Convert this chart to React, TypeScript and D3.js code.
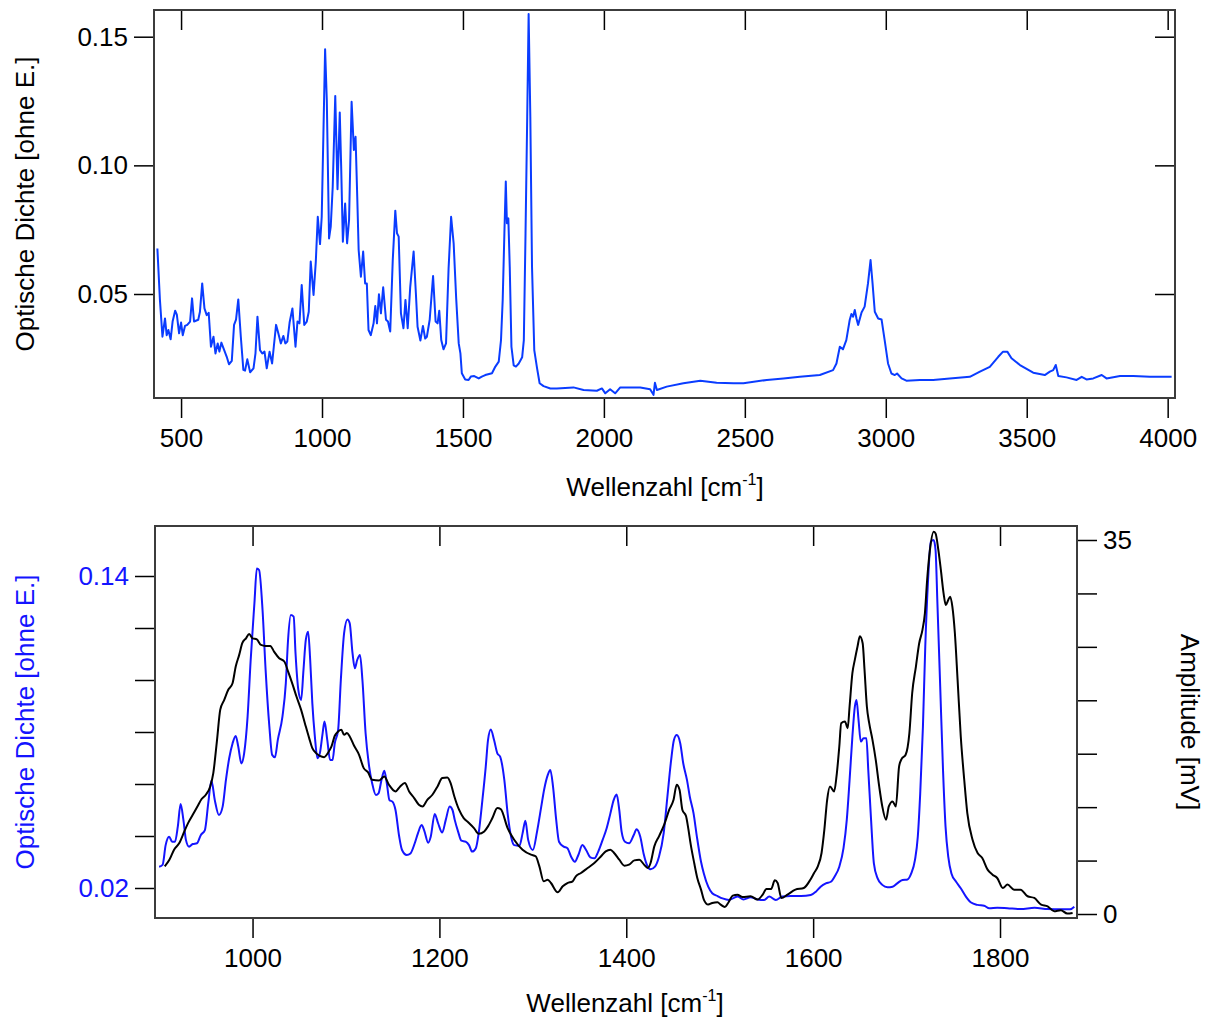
import React, { useEffect, useRef } from "react";
import * as d3 from "d3";

// Survey spectrum, top panel (wavenumber in cm-1, optical density)
const surveyWavenumber = [
  416, 425, 434, 443, 449, 455, 463, 470, 479, 485, 493, 500, 506, 514, 522, 532, 539, 546, 561, 567,
  575, 583, 591, 598, 606, 615, 622, 630, 636, 643, 653, 662, 670, 680, 688, 695, 703, 712, 721, 727,
  735, 745, 757, 764, 771, 780, 788, 796, 804, 814, 823, 829, 837, 845, 854, 863, 870, 877, 885, 895,
  906, 913, 920, 928, 937, 946, 953, 960, 970, 978, 985, 993, 999, 1005, 1011, 1017, 1025, 1031, 1038, 1047,
  1055, 1063, 1068, 1074, 1082, 1089, 1096, 1105, 1113, 1119, 1125, 1130, 1138, 1146, 1153, 1159, 1165, 1173, 1183, 1189,
  1195, 1202, 1209, 1217, 1227, 1234, 1242, 1251, 1260, 1266, 1272, 1280, 1289, 1296, 1304, 1313, 1325, 1333, 1339, 1349,
  1358, 1366, 1372, 1382, 1394, 1403, 1410, 1416, 1423, 1431, 1440, 1449, 1458, 1467, 1476, 1485, 1491, 1496, 1508, 1520,
  1528, 1540, 1556, 1567, 1579, 1603, 1615, 1627, 1635, 1641, 1647, 1652, 1656, 1661, 1666, 1672, 1680, 1688, 1698, 1710,
  1716, 1722, 1728, 1733, 1739, 1745, 1753, 1763, 1772, 1786, 1810, 1833, 1892, 1928, 1975, 1993, 2005, 2022, 2040, 2058,
  2082, 2129, 2164, 2176, 2181, 2188, 2223, 2282, 2342, 2400, 2460, 2495, 2578, 2637, 2695, 2766, 2813, 2825, 2837, 2848,
  2860, 2872, 2878, 2884, 2890, 2896, 2902, 2914, 2925, 2937, 2946, 2953, 2961, 2973, 2985, 2996, 3008, 3020, 3032, 3040,
  3056, 3073, 3121, 3168, 3227, 3298, 3334, 3369, 3399, 3416, 3431, 3446, 3476, 3523, 3564, 3582, 3594, 3603, 3612, 3641,
  3677, 3695, 3712, 3736, 3766, 3783, 3831, 3878, 3937, 4014,
];
const surveyDensity = [
  0.0677, 0.0477, 0.0334, 0.0405, 0.034, 0.036, 0.0324, 0.0393, 0.0435, 0.042, 0.0347, 0.0389, 0.034, 0.0376, 0.038, 0.0393, 0.0483, 0.0393, 0.04, 0.0431,
  0.0541, 0.0444, 0.0418, 0.0427, 0.0295, 0.0334, 0.0269, 0.0308, 0.0276, 0.0311, 0.0282, 0.0256, 0.0227, 0.024, 0.038, 0.04, 0.0479, 0.0334, 0.0205, 0.0202,
  0.0246, 0.0196, 0.0211, 0.0269, 0.0412, 0.0282, 0.0269, 0.0276, 0.0211, 0.0276, 0.023, 0.0295, 0.038, 0.0347, 0.0308, 0.0337, 0.0308, 0.0315, 0.0389, 0.0444,
  0.0295, 0.0393, 0.0386, 0.0535, 0.038, 0.0393, 0.0431, 0.0626, 0.0496, 0.0626, 0.08, 0.0694, 0.08, 0.1124, 0.1451, 0.1254, 0.0716, 0.0762, 0.0917, 0.127,
  0.0907, 0.1205, 0.0995, 0.0703, 0.0852, 0.0697, 0.0788, 0.1247, 0.106, 0.1111, 0.0878, 0.0671, 0.0567, 0.0665, 0.0541, 0.0541, 0.036, 0.034, 0.0386, 0.0453,
  0.0386, 0.0499, 0.0425, 0.0526, 0.04, 0.0393, 0.0354, 0.0632, 0.0824, 0.0736, 0.0723, 0.0425, 0.0367, 0.0477, 0.0367, 0.0528, 0.0665, 0.0503, 0.0373, 0.0319,
  0.0376, 0.0327, 0.0334, 0.04, 0.057, 0.0393, 0.0386, 0.0435, 0.0321, 0.0285, 0.0308, 0.0598, 0.08, 0.0697, 0.0483, 0.0308, 0.0269, 0.0192, 0.0168, 0.0166,
  0.0179, 0.0181, 0.0172, 0.0179, 0.0185, 0.0192, 0.0218, 0.0237, 0.0321, 0.0477, 0.0736, 0.0937, 0.0775, 0.0794, 0.0606, 0.0295, 0.0223, 0.0218, 0.023, 0.0254,
  0.0321, 0.0736, 0.1189, 0.1588, 0.1189, 0.0606, 0.0282, 0.0211, 0.0153, 0.0142, 0.0133, 0.0133, 0.0137, 0.0127, 0.0124, 0.0133, 0.0114, 0.013, 0.0114, 0.0137,
  0.0137, 0.0137, 0.013, 0.0108, 0.0155, 0.0127, 0.014, 0.0153, 0.0163, 0.0155, 0.0153, 0.0153, 0.0166, 0.0172, 0.0178, 0.0185, 0.0204, 0.023, 0.0295, 0.0285,
  0.0321, 0.0399, 0.0422, 0.0412, 0.0438, 0.0405, 0.038, 0.0428, 0.0451, 0.0542, 0.0632, 0.0542, 0.0431, 0.0405, 0.0401, 0.0321, 0.023, 0.0191, 0.0185, 0.0191,
  0.0172, 0.0163, 0.0166, 0.0166, 0.0172, 0.0178, 0.0198, 0.0217, 0.0256, 0.0276, 0.0276, 0.025, 0.0224, 0.0194, 0.0185, 0.0198, 0.0204, 0.0224, 0.0181, 0.0176,
  0.0166, 0.0178, 0.0168, 0.0172, 0.0185, 0.0172, 0.0181, 0.0181, 0.0178, 0.0178,
];

// Fingerprint region, bottom panel: optical density (blue)
const detailWavenumber = [
  900, 903.7, 907, 910.7, 914, 917, 920, 923, 926, 928.7, 932, 936, 940.5, 944.7, 949, 952.6, 956, 959.6, 964, 968,
  971.5, 975, 978.6, 982, 984.7, 988, 991, 994.7, 998, 1002, 1004.6, 1007, 1010.7, 1014, 1018, 1021, 1024, 1027, 1032, 1035.6,
  1038, 1041, 1044, 1046, 1049, 1052, 1054.5, 1057, 1059.5, 1061.7, 1064, 1066.7, 1069.5, 1072, 1075, 1077, 1080, 1083, 1085.6, 1088,
  1091.6, 1094.5, 1098, 1101.6, 1104, 1107, 1109.5, 1112, 1115, 1117.6, 1121, 1124.8, 1128, 1132, 1134.8, 1138, 1141, 1143.7, 1146.5, 1149.7,
  1153, 1157, 1160, 1165, 1169, 1173.6, 1177, 1181, 1183.6, 1188, 1190.7, 1195, 1198.6, 1203, 1206.8, 1211, 1214, 1216.4, 1220, 1223.5,
  1228, 1231.7, 1235, 1239, 1242, 1246, 1249.6, 1252, 1255, 1258.5, 1262, 1265, 1269.5, 1273, 1276.7, 1280, 1285.6, 1289, 1292, 1295,
  1300, 1304.5, 1309, 1312, 1316, 1318.7, 1321.6, 1325, 1328, 1333, 1337, 1341, 1345, 1348.7, 1353, 1357, 1361.5, 1366, 1370, 1374.7,
  1379, 1383, 1386.5, 1389.7, 1392.5, 1395, 1398.6, 1403, 1408, 1411, 1415, 1418.5, 1423, 1426, 1430.7, 1435, 1440, 1444, 1448, 1451,
  1454, 1457.8, 1461, 1465, 1468, 1472, 1475.6, 1480, 1483, 1487.7, 1492, 1497.7, 1503, 1510, 1519, 1525.5, 1533, 1540.5, 1547.6, 1553,
  1560, 1567, 1576, 1587, 1597.5, 1603, 1608, 1613.6, 1619, 1623, 1628, 1632.5, 1636, 1639, 1642, 1644.6, 1646.4, 1648.6, 1651, 1654,
  1657, 1659, 1662, 1665, 1669, 1674, 1679.6, 1685, 1690, 1695.7, 1701, 1705, 1709, 1712, 1714.6, 1717.5, 1720, 1723, 1726, 1729,
  1731, 1733, 1736, 1739, 1741.7, 1744.6, 1748, 1753, 1758, 1763.5, 1769, 1776, 1783, 1788.5, 1797, 1808, 1822, 1837, 1851, 1865,
  1875, 1879.5,
];
const detailDensity = [
  0.0282, 0.0289, 0.0365, 0.0397, 0.0378, 0.0378, 0.0436, 0.0523, 0.0462, 0.0385, 0.0359, 0.0369, 0.0372, 0.0404, 0.0423, 0.0526, 0.0613, 0.0538, 0.0481, 0.0513,
  0.0615, 0.0699, 0.0756, 0.0785, 0.0744, 0.0679, 0.0718, 0.0859, 0.1077, 0.1295, 0.1429, 0.1423, 0.1269, 0.1038, 0.0821, 0.0712, 0.0703, 0.0769, 0.0859, 0.0987,
  0.1154, 0.125, 0.1244, 0.1103, 0.0962, 0.0923, 0.1038, 0.1154, 0.1186, 0.1077, 0.091, 0.0782, 0.0699, 0.0718, 0.0795, 0.084, 0.0769, 0.0692, 0.0692, 0.0756,
  0.0808, 0.1, 0.118, 0.1233, 0.1218, 0.1103, 0.1045, 0.1077, 0.1096, 0.1, 0.0795, 0.0667, 0.0603, 0.0558, 0.0564, 0.0615, 0.0651, 0.0603, 0.0538, 0.0532,
  0.05, 0.0397, 0.0346, 0.0327, 0.0333, 0.0372, 0.041, 0.0442, 0.0423, 0.0374, 0.0397, 0.0485, 0.0449, 0.0413, 0.0462, 0.0513, 0.05, 0.0462, 0.0417, 0.0382,
  0.0378, 0.0365, 0.034, 0.0353, 0.041, 0.0538, 0.0667, 0.0769, 0.081, 0.0769, 0.0718, 0.0705, 0.0615, 0.0487, 0.0397, 0.0365, 0.0362, 0.041, 0.0459, 0.0385,
  0.0346, 0.0417, 0.0513, 0.0577, 0.0635, 0.0654, 0.059, 0.0462, 0.0378, 0.0359, 0.0353, 0.032, 0.0301, 0.0327, 0.0365, 0.0346, 0.0318, 0.0314, 0.034, 0.0385,
  0.043, 0.0487, 0.0538, 0.056, 0.05, 0.0417, 0.0378, 0.0372, 0.0404, 0.0426, 0.0397, 0.0333, 0.0282, 0.0272, 0.0282, 0.032, 0.041, 0.0551, 0.0692, 0.0769,
  0.0788, 0.0756, 0.0679, 0.0615, 0.0551, 0.0487, 0.0397, 0.0301, 0.0256, 0.0205, 0.018, 0.0169, 0.016, 0.0154, 0.0167, 0.0156, 0.0164, 0.0156, 0.0154, 0.0167,
  0.0154, 0.0167, 0.0169, 0.0169, 0.0173, 0.0186, 0.0205, 0.0218, 0.0224, 0.0244, 0.0282, 0.0353, 0.0462, 0.0615, 0.0782, 0.0897, 0.0923, 0.0846, 0.0763, 0.0776,
  0.0776, 0.0654, 0.0462, 0.0295, 0.0237, 0.0212, 0.0203, 0.0205, 0.0218, 0.0231, 0.0233, 0.0256, 0.0308, 0.0397, 0.0564, 0.082, 0.1128, 0.1385, 0.1532, 0.1538,
  0.15, 0.1295, 0.0974, 0.0654, 0.0436, 0.0321, 0.0256, 0.0224, 0.0199, 0.0167, 0.0144, 0.0135, 0.0132, 0.0122, 0.0124, 0.0122, 0.0119, 0.0124, 0.0119, 0.0118,
  0.0118, 0.0128,
];

// Fingerprint region, bottom panel: amplitude in mV (black)
const amplitudeWavenumber = [
  906, 911, 916, 921.6, 927, 931, 936, 941, 945.5, 950, 954.7, 958, 962, 965.4, 969.7, 974, 978.6, 982, 985.7, 989,
  993, 996.4, 1000, 1004.6, 1009, 1014, 1019, 1023, 1028.5, 1034, 1038, 1043, 1047, 1052, 1056, 1060.6, 1064, 1068, 1072, 1076.6,
  1081, 1084.5, 1088, 1091.6, 1095, 1098, 1101, 1104, 1108.7, 1114, 1119, 1123.7, 1128, 1135.5, 1141, 1146, 1153, 1158, 1163, 1167.6,
  1173, 1178, 1182, 1187, 1192.5, 1198, 1203, 1208.5, 1212, 1216, 1221, 1226, 1231, 1237, 1242, 1248, 1252, 1256.7, 1262, 1265.6,
  1273, 1280, 1289, 1298, 1303, 1307, 1311.6, 1316, 1319.4, 1326.6, 1332, 1337, 1342.6, 1346, 1351.5, 1358.6, 1365.8, 1373, 1378, 1383,
  1387, 1392.5, 1398, 1403, 1408.6, 1414, 1419, 1423, 1426, 1430, 1435, 1440.6, 1446, 1450.6, 1454, 1457, 1460, 1464, 1466, 1469,
  1472.7, 1476, 1480, 1483, 1487.7, 1492, 1497.7, 1501, 1505.5, 1509, 1514, 1519, 1524.4, 1533, 1540.5, 1546, 1550, 1555, 1559, 1562,
  1566, 1572.5, 1581, 1590, 1597, 1601, 1605, 1609, 1612, 1615, 1618, 1622.5, 1625, 1628, 1630, 1634, 1637, 1639, 1642, 1644.6,
  1647.5, 1650, 1653, 1655, 1657.5, 1660, 1663.5, 1667, 1670.7, 1674, 1678, 1681, 1685, 1688.5, 1692, 1694.6, 1699, 1703, 1706, 1710,
  1713.5, 1717, 1719.6, 1722, 1725, 1729, 1731, 1734, 1736.7, 1739.6, 1742, 1744.6, 1746.7, 1749, 1751.7, 1754.6, 1758, 1761.7, 1765, 1770.6,
  1776, 1781, 1786.7, 1792, 1797, 1803, 1808, 1815, 1822, 1829.5, 1836.7, 1844, 1851, 1858, 1865, 1872, 1877.7,
];
const amplitudeMv = [
  4.46, 5.08, 6.02, 6.64, 7.73, 8.51, 9.29, 10.07, 10.76, 11.16, 11.94, 13.19, 16.3, 19.1, 20.04, 20.98, 21.6, 23.16, 24.25, 25.34,
  25.8, 26.2, 25.8, 25.7, 25.18, 25.09, 25.09, 24.56, 23.94, 23.63, 22.7, 21.44, 20.35, 19.1, 17.86, 16.46, 15.52, 15.06, 14.8, 14.68,
  15.12, 15.68, 16.68, 17.08, 17.24, 16.77, 16.93, 16.61, 15.74, 14.9, 13.65, 13.25, 12.56, 12.5, 12.87, 12.1, 11.47, 11.94, 12.25, 11.47,
  10.85, 10.23, 10.07, 10.69, 11.16, 11.94, 12.72, 12.78, 12.25, 11.0, 9.76, 8.98, 8.57, 8.04, 7.51, 7.73, 8.2, 8.98, 9.91, 9.82,
  8.04, 6.95, 6.02, 5.55, 5.4, 4.46, 3.06, 3.21, 2.9, 2.03, 2.59, 2.9, 3.06, 3.53, 3.84, 4.3, 4.77, 5.4, 5.86, 6.02,
  5.71, 5.08, 4.52, 4.62, 5.02, 5.08, 4.62, 4.3, 4.77, 6.33, 7.27, 8.36, 9.76, 10.69, 12.1, 11.63, 9.76, 9.14, 8.2, 6.49,
  4.77, 3.37, 2.28, 1.35, 0.88, 1.03, 1.1, 0.88, 0.66, 1.03, 1.72, 1.81, 1.59, 1.66, 1.35, 1.81, 2.34, 2.34, 3.15, 2.9,
  1.5, 1.81, 2.28, 2.43, 3.21, 3.84, 4.46, 5.71, 7.89, 10.69, 11.94, 11.47, 12.87, 15.68, 17.86, 18.02, 17.39, 19.42, 22.54, 23.78,
  25.03, 26.0, 25.34, 22.85, 19.42, 17.86, 16.3, 14.43, 11.94, 10.07, 8.82, 10.07, 10.54, 10.07, 13.81, 14.5, 14.9, 16.93, 20.66, 23.16,
  25.34, 26.59, 28.14, 31.26, 34.07, 35.78, 35.62, 34.07, 32.2, 30.01, 28.92, 29.39, 29.7, 28.77, 26.27, 21.91, 16.61, 12.56, 9.45, 6.95,
  5.71, 5.24, 4.15, 3.68, 3.37, 2.43, 2.75, 2.28, 2.28, 1.66, 1.5, 0.88, 0.72, 0.25, 0.35, 0.04, 0.1,
];

const surveyXTicks = [500, 1000, 1500, 2000, 2500, 3000, 3500, 4000];
const surveyYTicks = [0.05, 0.1, 0.15];
const detailXTicks = [1000, 1200, 1400, 1600, 1800];
const detailYTicks = [0.02, 0.04, 0.06, 0.08, 0.1, 0.12, 0.14];
const detailYLabelled = [0.02, 0.14];
const amplitudeTicks = [0, 5, 10, 15, 20, 25, 30, 35];
const amplitudeLabelled = [0, 35];

const FONT = "'Liberation Sans', Arial, Helvetica, sans-serif";
const SURVEY_BLUE = "#0a3cff";
const DETAIL_BLUE = "#1414ff";

const styleAxis = (g, color = "#000") => {
  g.select(".domain").remove();
  g.attr("font-size", null).attr("font-family", null);
  g.selectAll(".tick line").attr("stroke", "#000").attr("stroke-width", 1.5);
  g.selectAll(".tick text")
    .attr("fill", color)
    .attr("font-size", 26)
    .attr("font-family", FONT);
};

const wavenumberLabel = (svg, x, y) => {
  const t = svg
    .append("text")
    .attr("x", x)
    .attr("y", y)
    .attr("text-anchor", "middle")
    .attr("font-family", FONT)
    .attr("font-size", 26)
    .attr("fill", "#000");
  t.append("tspan").text("Wellenzahl [cm");
  t.append("tspan").attr("font-size", 16).attr("dy", -11).text("-1");
  t.append("tspan").attr("dy", 11).text("]");
};

const App = () => {
  const svgRef = useRef(null);

  useEffect(() => {
    const svg = d3.select(svgRef.current);
    svg.selectAll("*").remove();

    // ---------- top panel ----------
    const top = { left: 154, right: 1175, top: 10, bottom: 398 };
    const xTop = d3.scaleLinear().domain([404, 4026]).range([top.left, top.right]);
    const yTop = d3.scaleLinear().domain([0.00958, 0.16038]).range([top.bottom, top.top]);

    svg
      .append("clipPath")
      .attr("id", "clip-top")
      .append("rect")
      .attr("x", top.left)
      .attr("y", top.top)
      .attr("width", top.right - top.left)
      .attr("height", top.bottom - top.top);

    const surveyLine = d3
      .line()
      .x((d) => xTop(d[0]))
      .y((d) => yTop(d[1]));

    svg
      .append("path")
      .datum(surveyWavenumber.map((w, i) => [w, surveyDensity[i]]))
      .attr("clip-path", "url(#clip-top)")
      .attr("d", surveyLine)
      .attr("fill", "none")
      .attr("stroke", SURVEY_BLUE)
      .attr("stroke-width", 2)
      .attr("stroke-linejoin", "round");

    svg
      .append("g")
      .attr("transform", `translate(0,${top.bottom})`)
      .call(d3.axisBottom(xTop).tickValues(surveyXTicks).tickSize(20).tickPadding(11).tickFormat(d3.format("d")))
      .call((g) => styleAxis(g));
    svg
      .append("g")
      .attr("transform", `translate(0,${top.top})`)
      .call(d3.axisTop(xTop).tickValues(surveyXTicks).tickSize(-20).tickFormat(() => ""))
      .call((g) => styleAxis(g));
    svg
      .append("g")
      .attr("transform", `translate(${top.left},0)`)
      .call(d3.axisLeft(yTop).tickValues(surveyYTicks).tickSize(20).tickPadding(6).tickFormat(d3.format(".2f")))
      .call((g) => styleAxis(g));
    svg
      .append("g")
      .attr("transform", `translate(${top.right},0)`)
      .call(d3.axisRight(yTop).tickValues(surveyYTicks).tickSize(-20).tickFormat(() => ""))
      .call((g) => styleAxis(g));

    svg
      .append("rect")
      .attr("x", top.left)
      .attr("y", top.top)
      .attr("width", top.right - top.left)
      .attr("height", top.bottom - top.top)
      .attr("fill", "none")
      .attr("stroke", "#3c3c3c")
      .attr("stroke-width", 2);

    svg
      .append("text")
      .attr("transform", `translate(34,204) rotate(-90)`)
      .attr("text-anchor", "middle")
      .attr("font-family", FONT)
      .attr("font-size", 26)
      .text("Optische Dichte [ohne E.]");

    wavenumberLabel(svg, 665, 496);

    // ---------- bottom panel ----------
    const bot = { left: 155, right: 1077, top: 526, bottom: 918 };
    const xBot = d3.scaleLinear().domain([895.6, 1882.4]).range([bot.left, bot.right]);
    const yDensity = d3.scaleLinear().domain([0.00846, 0.15923]).range([bot.bottom, bot.top]);
    const yAmp = d3.scaleLinear().domain([-0.374, 36.31]).range([bot.bottom, bot.top]);

    svg
      .append("clipPath")
      .attr("id", "clip-bot")
      .append("rect")
      .attr("x", bot.left)
      .attr("y", bot.top)
      .attr("width", bot.right - bot.left)
      .attr("height", bot.bottom - bot.top);

    const densityLine = d3
      .line()
      .x((d) => xBot(d[0]))
      .y((d) => yDensity(d[1]))
      .curve(d3.curveMonotoneX);
    const ampLine = d3
      .line()
      .x((d) => xBot(d[0]))
      .y((d) => yAmp(d[1]))
      .curve(d3.curveMonotoneX);

    svg
      .append("path")
      .datum(detailWavenumber.map((w, i) => [w, detailDensity[i]]))
      .attr("clip-path", "url(#clip-bot)")
      .attr("d", densityLine)
      .attr("fill", "none")
      .attr("stroke", DETAIL_BLUE)
      .attr("stroke-width", 2);

    svg
      .append("path")
      .datum(amplitudeWavenumber.map((w, i) => [w, amplitudeMv[i]]))
      .attr("clip-path", "url(#clip-bot)")
      .attr("d", ampLine)
      .attr("fill", "none")
      .attr("stroke", "#000")
      .attr("stroke-width", 2);

    svg
      .append("g")
      .attr("transform", `translate(0,${bot.bottom})`)
      .call(d3.axisBottom(xBot).tickValues(detailXTicks).tickSize(20).tickPadding(11).tickFormat(d3.format("d")))
      .call((g) => styleAxis(g));
    svg
      .append("g")
      .attr("transform", `translate(0,${bot.top})`)
      .call(d3.axisTop(xBot).tickValues(detailXTicks).tickSize(-20).tickFormat(() => ""))
      .call((g) => styleAxis(g));
    svg
      .append("g")
      .attr("transform", `translate(${bot.left},0)`)
      .call(
        d3
          .axisLeft(yDensity)
          .tickValues(detailYTicks)
          .tickSize(20)
          .tickPadding(6)
          .tickFormat((d) => (detailYLabelled.some((v) => Math.abs(v - d) < 1e-9) ? d3.format(".2f")(d) : ""))
      )
      .call((g) => styleAxis(g, DETAIL_BLUE));
    svg
      .append("g")
      .attr("transform", `translate(${bot.right},0)`)
      .call(
        d3
          .axisRight(yAmp)
          .tickValues(amplitudeTicks)
          .tickSize(20)
          .tickPadding(6)
          .tickFormat((d) => (amplitudeLabelled.includes(d) ? String(d) : ""))
      )
      .call((g) => styleAxis(g));

    svg
      .append("rect")
      .attr("x", bot.left)
      .attr("y", bot.top)
      .attr("width", bot.right - bot.left)
      .attr("height", bot.bottom - bot.top)
      .attr("fill", "none")
      .attr("stroke", "#3c3c3c")
      .attr("stroke-width", 2);

    svg
      .append("text")
      .attr("transform", `translate(34,722) rotate(-90)`)
      .attr("text-anchor", "middle")
      .attr("font-family", FONT)
      .attr("font-size", 26)
      .attr("fill", DETAIL_BLUE)
      .text("Optische Dichte [ohne E.]");

    svg
      .append("text")
      .attr("transform", `translate(1181,722) rotate(90)`)
      .attr("text-anchor", "middle")
      .attr("font-family", FONT)
      .attr("font-size", 26)
      .text("Amplitude [mV]");

    wavenumberLabel(svg, 625, 1012);
  }, []);

  return (
    <div style={{ position: "absolute", left: 0, top: 0 }}>
      <svg ref={svgRef} width={1211} height={1021} style={{ display: "block", background: "#fff" }} />
    </div>
  );
};

export default App;
